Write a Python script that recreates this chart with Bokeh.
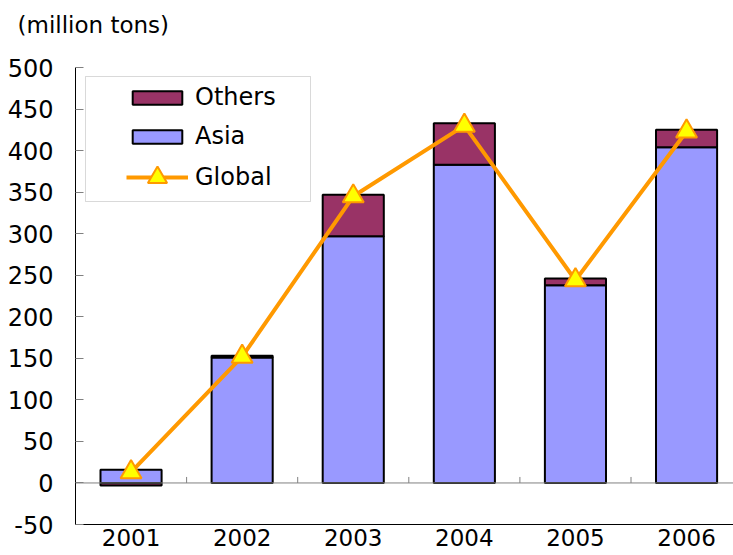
import numpy as np
from bokeh.plotting import figure
from bokeh.models import (Range1d, FixedTicker, LinearAxis, Legend, LegendItem,
                          BoxAnnotation, ColumnDataSource, Span, Label)
from bokeh.embed import file_html
from bokeh.resources import INLINE

# ---- data ----
years = [2001, 2002, 2003, 2004, 2005, 2006]
year_labels = ["2001", "2002", "2003", "2004", "2005", "2006"]
asia = [16, 151, 297, 383, 238, 404]
others = [-3, 2, 50, 50, 8, 21]
global_total = [13, 152, 345, 430, 244, 423]
y_ticks = [-50, 0, 50, 100, 150, 200, 250, 300, 350, 400, 450, 500]
y_tick_labels = ["-50", "0", "50", "100", "150", "200", "250", "300", "350",
                 "400", "450", "500"]
unit_label = "(million tons)"

FONT = "DejaVu Sans"
Y0, Y1 = -50, 500
FRAME_H = 457
TICK_PX = 6

a = np.array(asia, dtype=float)
o = np.array(others, dtype=float)
src = ColumnDataSource(dict(
    x=years,
    asia_bottom=np.zeros_like(a),
    asia_top=a,
    oth_bottom=np.where(o >= 0, a, 0.0),
    oth_top=np.where(o >= 0, a + o, o),
    glob=global_total,
))

p = figure(width=733, height=555, output_backend="svg", toolbar_location=None,
           title=None,
           x_range=Range1d(2000.5, 2000.5 + 658 / 111.1),
           y_range=Range1d(Y0, Y1),
           min_border_left=75, min_border_right=0, min_border_top=67,
           min_border_bottom=31, x_axis_type=None, y_axis_type=None)
p.outline_line_color = None
p.background_fill_color = "white"
p.border_fill_color = "white"

# unit label above the plot area
p.add_layout(Label(x=-58, y=43, x_units="screen", y_units="screen",
                   text=unit_label, text_font=FONT, text_font_size="23px",
                   text_color="black", text_align="left", text_baseline="middle"),
             "above")

# y axis
yax = LinearAxis(ticker=FixedTicker(ticks=y_ticks),
                 major_label_overrides={t: l for t, l in zip(y_ticks, y_tick_labels)})
yax.axis_line_color = "black"
yax.axis_line_width = 1
yax.major_tick_in = 8
yax.major_tick_out = 0
yax.major_tick_line_color = "#808080"
yax.minor_tick_line_color = None
yax.major_label_standoff = 22
yax.major_label_text_font = FONT
yax.major_label_text_font_size = "24px"
yax.major_label_text_color = "black"
p.add_layout(yax, "left")

# x axis (labels at bottom)
xax = LinearAxis(ticker=FixedTicker(ticks=years),
                 major_label_overrides={y: l for y, l in zip(years, year_labels)})
xax.axis_line_color = "black"
xax.axis_line_width = 1
xax.major_tick_in = 0
xax.major_tick_out = 0
xax.minor_tick_line_color = None
xax.major_label_standoff = 4
xax.major_label_text_font = FONT
xax.major_label_text_font_size = "23px"
xax.major_label_text_color = "black"
p.add_layout(xax, "below")

# grid
p.ygrid.ticker = FixedTicker(ticks=y_ticks)
p.ygrid.grid_line_color = "black"
p.ygrid.grid_line_width = 1
p.xgrid.grid_line_color = None

# category axis line at zero with between-category tick marks
p.add_layout(Span(location=0, dimension="width", line_color="#808080", line_width=1))
bounds = [y + 0.5 for y in years[:-1]]
tick_len = TICK_PX * (Y1 - Y0) / FRAME_H
p.segment(x0=bounds, y0=[0] * len(bounds), x1=bounds, y1=[tick_len] * len(bounds),
          line_color="#808080", line_width=1)

# bars
r_asia = p.vbar(x="x", bottom="asia_bottom", top="asia_top", width=0.55, source=src,
                fill_color="#9999FF", line_color="black", line_width=2)
r_oth = p.vbar(x="x", bottom="oth_bottom", top="oth_top", width=0.55, source=src,
               fill_color="#993366", line_color="black", line_width=2)
r_line = p.line(x="x", y="glob", source=src, line_color="#FF9900", line_width=4)
r_mark = p.scatter(x="x", y="glob", source=src, marker="triangle", size=21,
                   fill_color="#FFFF00", line_color="#FF9900", line_width=2)

# legend box
box = BoxAnnotation(left=10, right=235, top=448, bottom=323,
                    left_units="screen", right_units="screen",
                    top_units="screen", bottom_units="screen",
                    fill_color="white", fill_alpha=1,
                    line_color="#808080", line_width=1, level="annotation")
p.add_layout(box)

leg_a = Legend(items=[LegendItem(label="Others", renderers=[r_oth]),
                      LegendItem(label="Asia", renderers=[r_asia])],
               location=(51, 374))
leg_b = Legend(items=[LegendItem(label="Global", renderers=[r_line, r_mark])],
               location=(51, 323))
for lg, gh, sp in ((leg_a, 17, 11), (leg_b, 48, 0)):
    lg.glyph_width = 62
    lg.glyph_height = gh
    lg.label_height = 28
    lg.spacing = sp
    lg.padding = 0
    lg.margin = 0
    lg.label_standoff = 7
    lg.label_text_font = FONT
    lg.label_text_font_size = "24px"
    lg.label_text_color = "black"
    lg.border_line_color = None
    lg.background_fill_alpha = 0
    p.add_layout(lg, "center")

open("out.html", "w").write(file_html(p, INLINE))
